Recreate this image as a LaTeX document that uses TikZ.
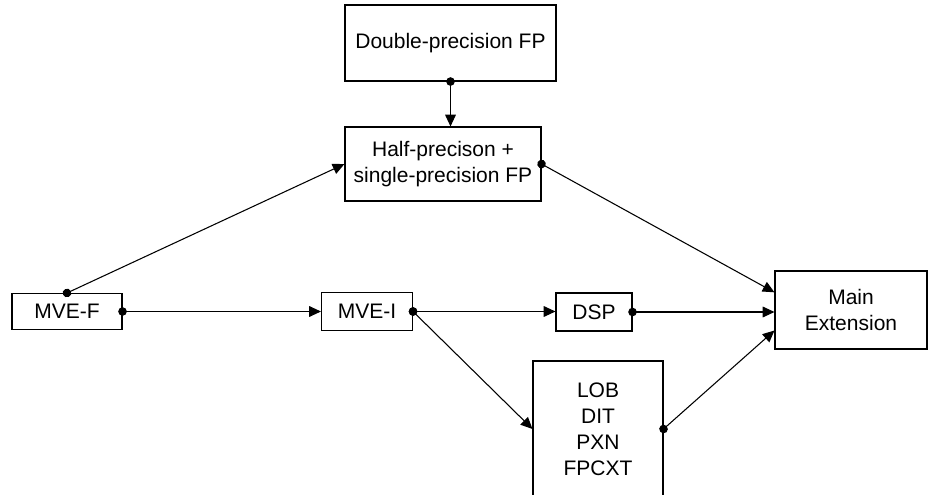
\documentclass[tikz,border=0pt]{standalone}
\usepackage{fontspec}
\setmainfont{Liberation Sans}
\usetikzlibrary{arrows.meta}
\begin{document}
\begin{tikzpicture}[x=0.75pt,y=0.75pt,yscale=-1,xscale=1,
  blk/.style={draw, line width=0.8pt, inner sep=0pt, align=center,
    font=\fontsize{15.75}{19.5}\selectfont},
  link/.style={line width=0.8pt, shorten <=-3.2pt,
    {Circle[length=6.4pt]}-{Triangle[length=8.8pt,width=8pt]}}]
\useasboundingbox (0,0) rectangle (930,495);

\node[blk, minimum width=158.25pt, minimum height=57pt] (dbl) at (450.5,43) {Double-precision FP};
\node[blk, minimum width=147pt, minimum height=55.5pt] (half) at (443,164) {Half-precison +\\single-precision FP};
\node[blk, minimum width=82.5pt, minimum height=27pt] (mvef) at (67,311.5) {MVE-F};
\node[blk, minimum width=68.25pt, minimum height=28.5pt] (mvei) at (367,311.5) {MVE-I};
\node[blk, minimum width=57pt, minimum height=28.5pt] (dsp) at (594,312) {DSP};
\node[blk, minimum width=114pt, minimum height=58.5pt] (mainext) at (851,310) {Main\\Extension};
\node[blk, minimum width=97.5pt, minimum height=102pt] (lob) at (598,429) {LOB\\DIT\\PXN\\FPCXT};

\draw[link] (dbl.south) -- (dbl.south |- half.north);
\draw[link] (mvef.north) -- (half.west);
\draw[link] (mvef.east) -- (mvef.east -| mvei.west);
\draw[link] (mvei.east) -- (mvei.east -| dsp.west);
\draw[link] (mvei.east) -- (lob.west);
\draw[link] (half.east) -- (mainext.167);
\draw[link] (dsp.east) -- (dsp.east -| mainext.west);
\draw[link] (lob.east) -- (mainext.195);

\end{tikzpicture}
\end{document}
